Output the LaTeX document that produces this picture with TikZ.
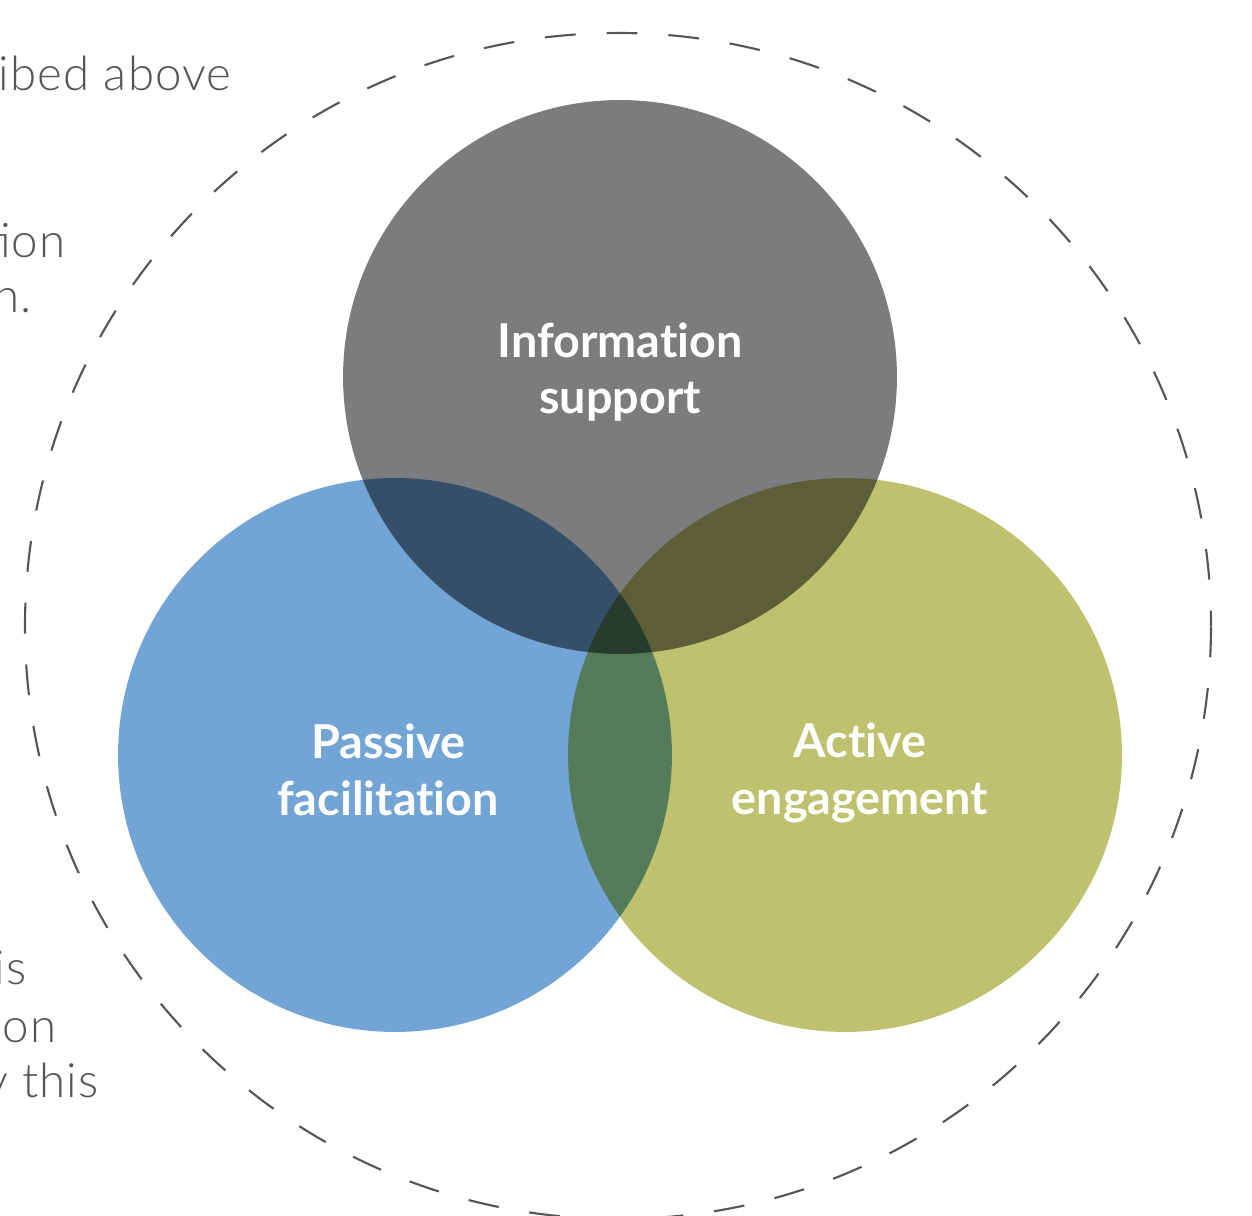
\documentclass[tikz,border=0pt]{standalone}
\usepackage{fontspec}
\usepackage{xcolor}
\usepackage{tikz}
\usetikzlibrary{positioning}
\newfontfamily\textofont{Lato}[Ligatures={NoCommon,NoContextual}]
\newfontfamily\notafont{Lato Light}[LetterSpace=2.5]

\definecolor{grisinfo}{HTML}{7B7C7E}
\definecolor{azulpasivo}{HTML}{72A4D5}
\definecolor{verdeactivo}{HTML}{BEC26E}
\definecolor{grislinea}{HTML}{555555}
\definecolor{grisnota}{HTML}{555555}

\begin{document}
\begin{tikzpicture}[x=0.02cm, y=0.02cm]
\tikzstyle{circulo}=[
    circle,
    draw=none,
    inner sep=0pt,
    minimum size=11.08cm % diametro 554
]
\tikzstyle{etiqueta}=[
    text=white,
    align=center,
    font=\textofont\bfseries\fontsize{26.6}{32.3}\selectfont
]
\tikzstyle{nota}=[
    anchor=base east,
    inner sep=0pt,
    text=grisnota,
    font=\notafont\fontsize{27}{32}\selectfont
]
\tikzstyle{borde}=[
    grislinea,
    line width=1.2pt,
    dash pattern=on 17.57pt off 17.63pt,
    dash phase=8.79pt
]

\useasboundingbox (0,0) rectangle (1252,1215);
\clip (0,0) rectangle (1252,1215);

% Texto de fondo
\node[nota] (n1) at (232,1124) {ibed above};
\node[nota] (n2) at (66,957) {tion};
\node[nota] (n3) at (32,902) {n.};
\node[nota] (n4) at (27,230) {is};
\node[nota] (n5) at (57,173) {on};
\node[nota] (n6) at (99,117) {y this};

% Circulo discontinuo
\node[circle, inner sep=0pt, minimum size=23.72cm] (marco) at (618,589) {};
\draw[borde] (marco.center) circle[radius=593];

% Circulos
\begin{scope}[blend group=multiply]
\node[circulo, fill=grisinfo] (info) at (620,838) {};
\node[circulo, fill=azulpasivo] (pasivo) at (395,460) {};
\node[circulo, fill=verdeactivo] (activo) at (845,460) {};
\end{scope}

% Etiquetas
\node[etiqueta, yshift=0.1cm] (infotxt) at (info) {Information\\support};
\node[etiqueta, xshift=-0.14cm, yshift=-0.3cm] (pasivotxt) at (pasivo) {Passive\\facilitation};
\node[etiqueta, xshift=0.3cm, yshift=-0.36cm] (activotxt) at (activo) {Active\\engagement};

\end{tikzpicture}
\end{document}
